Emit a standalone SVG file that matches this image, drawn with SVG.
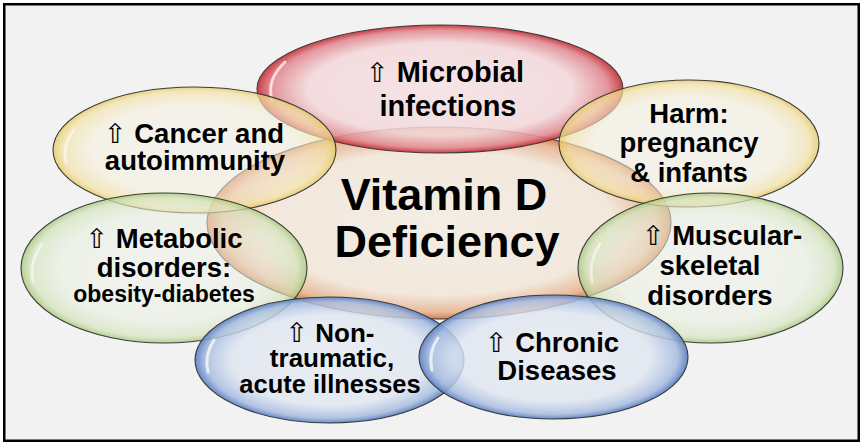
<svg xmlns="http://www.w3.org/2000/svg" width="864" height="447" viewBox="0 0 864 447">
  <defs>
    <radialGradient id="gRed" cx="0.5" cy="0.5" r="0.5">
      <stop offset="0" stop-color="#f6e2e4" stop-opacity="0.85"/>
      <stop offset="0.72" stop-color="#f3d8db" stop-opacity="0.85"/>
      <stop offset="0.92" stop-color="#e08a90" stop-opacity="0.9"/>
      <stop offset="1" stop-color="#c8343d" stop-opacity="0.95"/>
    </radialGradient>
    <radialGradient id="gCenter" cx="0.5" cy="0.5" r="0.5">
      <stop offset="0" stop-color="#f4ede4" stop-opacity="0.95"/>
      <stop offset="0.75" stop-color="#f2e7da" stop-opacity="0.9"/>
      <stop offset="0.93" stop-color="#e7b48f" stop-opacity="0.9"/>
      <stop offset="1" stop-color="#d07a45" stop-opacity="0.95"/>
    </radialGradient>
    <radialGradient id="gYellow" cx="0.5" cy="0.5" r="0.5">
      <stop offset="0" stop-color="#f3f1ec" stop-opacity="0.55"/>
      <stop offset="0.72" stop-color="#f6f0dc" stop-opacity="0.55"/>
      <stop offset="0.93" stop-color="#f3e2a6" stop-opacity="0.7"/>
      <stop offset="1" stop-color="#e6cb6a" stop-opacity="0.85"/>
    </radialGradient>
    <radialGradient id="gGreen" cx="0.5" cy="0.5" r="0.5">
      <stop offset="0" stop-color="#f1f2ee" stop-opacity="0.55"/>
      <stop offset="0.72" stop-color="#eaf0e0" stop-opacity="0.55"/>
      <stop offset="0.93" stop-color="#d3e3bb" stop-opacity="0.7"/>
      <stop offset="1" stop-color="#a9c97f" stop-opacity="0.85"/>
    </radialGradient>
    <radialGradient id="gBlue" cx="0.5" cy="0.5" r="0.5">
      <stop offset="0" stop-color="#e9edf3" stop-opacity="0.8"/>
      <stop offset="0.72" stop-color="#dfe6f1" stop-opacity="0.8"/>
      <stop offset="0.92" stop-color="#a7bce0" stop-opacity="0.85"/>
      <stop offset="1" stop-color="#5f83c4" stop-opacity="0.95"/>
    </radialGradient>
  </defs>
  <style>
    .bubble { stroke: #3c3c3c; stroke-width: 1.1; }
    .gloss { fill: none; stroke: #ffffff; stroke-opacity: 0.7; stroke-width: 3; stroke-linecap: round; }
    .t { font-family: "Liberation Sans", Arial, sans-serif; font-weight: bold; font-size: 27.5px; fill: #000; text-anchor: middle; }
    .big { font-size: 45px; }
    .ar { font-family: "DejaVu Sans", sans-serif; font-weight: normal; font-size: 27px; }
  </style>

  <rect x="0" y="0" width="864" height="447" fill="#ffffff"/>
  <rect x="4.25" y="4.25" width="854.5" height="436.5" fill="#f2f2f2" stroke="#000" stroke-width="2.5"/>

  <g id="center">
    <ellipse class="bubble" cx="439" cy="223" rx="232" ry="96" fill="url(#gCenter)"/>
  </g>
  <g id="microbial">
    <ellipse class="bubble" cx="440" cy="89" rx="183" ry="64" fill="url(#gRed)"/>
    <path class="gloss" d="M272,100 Q266,80 285,62"/>
  </g>
  <g id="cancer">
    <ellipse class="bubble" cx="194.5" cy="150" rx="141.5" ry="63" fill="url(#gYellow)"/>
    <path class="gloss" d="M66,162 Q62,145 74,130" style="stroke-opacity:0.5"/>
  </g>
  <g id="harm">
    <ellipse class="bubble" cx="689" cy="143.5" rx="130" ry="63.5" fill="url(#gYellow)"/>
  </g>
  <g id="metabolic">
    <ellipse class="bubble" cx="164" cy="268" rx="143" ry="75" fill="url(#gGreen)"/>
    <path class="gloss" d="M33,282 Q29,262 42,244" style="stroke-opacity:0.5"/>
  </g>
  <g id="muscular">
    <ellipse class="bubble" cx="710.5" cy="268" rx="132.5" ry="75" fill="url(#gGreen)"/>
    <path class="gloss" d="M592,282 Q588,262 600,244" style="stroke-opacity:0.5"/>
  </g>
  <g id="nontraumatic">
    <ellipse class="bubble" cx="329.5" cy="360" rx="134.5" ry="63" fill="url(#gBlue)"/>
    <path class="gloss" d="M208,372 Q204,355 214,340"/>
  </g>
  <g id="chronic">
    <ellipse class="bubble" cx="553.5" cy="357" rx="134.5" ry="62" fill="url(#gBlue)"/>
    <path class="gloss" d="M432,370 Q428,352 438,338"/>
  </g>

  <g id="labels">
    <text class="t big" x="444" y="210">Vitamin D</text>
    <text class="t big" x="447" y="257">Deficiency</text>

    <text class="t" x="445" y="82" style="font-size:29px"><tspan class="ar">⇧</tspan> Microbial</text>
    <text class="t" x="448" y="116" style="font-size:29px">infections</text>

    <text class="t" x="194" y="143"><tspan class="ar">⇧</tspan> Cancer and</text>
    <text class="t" x="195" y="170">autoimmunity</text>

    <text class="t" x="689" y="123">Harm:</text>
    <text class="t" x="689" y="152">pregnancy</text>
    <text class="t" x="689" y="182">&amp; infants</text>

    <text class="t" x="164" y="248"><tspan class="ar">⇧</tspan> Metabolic</text>
    <text class="t" x="164" y="277">disorders:</text>
    <text class="t" x="164" y="302" style="font-size:23px">obesity-diabetes</text>

    <text class="t" x="722" y="245"><tspan class="ar">⇧</tspan> Muscular-</text>
    <text class="t" x="710" y="275">skeletal</text>
    <text class="t" x="710" y="305">disorders</text>

    <text class="t" x="330" y="342" style="font-size:26px"><tspan class="ar">⇧</tspan> Non-</text>
    <text class="t" x="332" y="367" style="font-size:26px">traumatic,</text>
    <text class="t" x="330" y="393" style="font-size:25.5px">acute illnesses</text>

    <text class="t" x="552" y="352"><tspan class="ar">⇧</tspan> Chronic</text>
    <text class="t" x="557" y="380">Diseases</text>
  </g>
</svg>
